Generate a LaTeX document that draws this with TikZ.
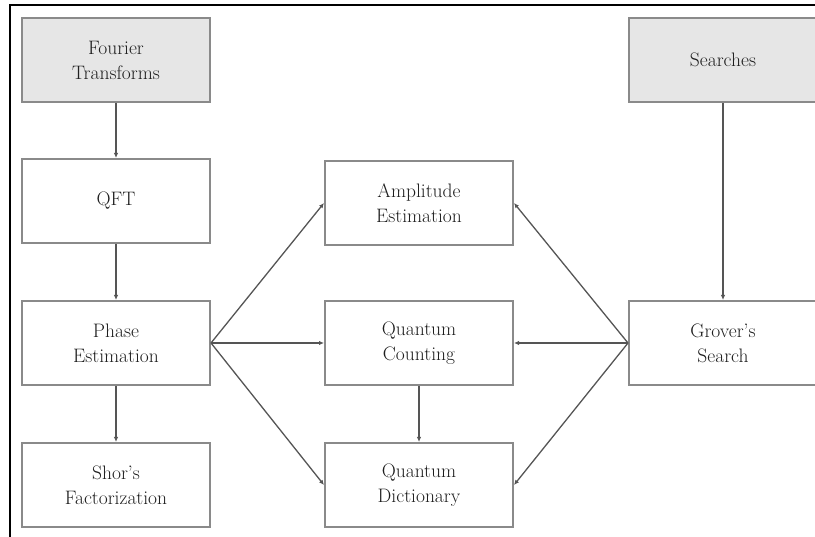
\documentclass[tikz,border=0pt]{standalone}
\usetikzlibrary{arrows.meta}
\definecolor{srcfill}{HTML}{E6E6E6}
\definecolor{boxgray}{HTML}{8A8A8A}
\definecolor{linkgray}{HTML}{555555}
\definecolor{textgray}{HTML}{1E1E1E}
\begin{document}
\begin{tikzpicture}[x=1pt,y=-1pt,
  box/.style={draw=boxgray, line width=2pt, minimum width=188pt, minimum height=84pt,
    align=center, text=textgray, font=\fontsize{19.5}{25}\selectfont, inner sep=0pt},
  src/.style={box, fill=srcfill},
  link/.style={draw=linkgray, line width=1.3pt, -{Latex[length=5pt,width=4.5pt]}}]
\useasboundingbox (0,0) rectangle (815,537);

% outer frame (left and top edges)
\draw[line width=2.6pt] (10,537) -- (10,5) -- (815,5);

% left column
\node[src] (four)  at (116,60)  {Fourier\\Transforms};
\node[box] (qft)   at (116,201) {QFT};
\node[box] (phase) at (116,343) {Phase\\Estimation};
\node[box] (shor)  at (116,485) {Shor's\\Factorization};

% middle column
\node[box] (amp)   at (419,203) {Amplitude\\Estimation};
\node[box] (count) at (419,343) {Quantum\\Counting};
\node[box] (dict)  at (419,485) {Quantum\\Dictionary};

% right column
\node[src] (search) at (723,60)  {Searches};
\node[box] (grover) at (723,343) {Grover's\\Search};

% connectors
\draw[link] (four) -- (qft);
\draw[link] (qft) -- (phase);
\draw[link] (phase) -- (shor);
\draw[link] (phase.east) -- (amp.west);
\draw[link] (phase.east) -- (count.west);
\draw[link] (phase.east) -- (dict.west);
\draw[link] (count) -- (dict);
\draw[link] (search) -- (grover);
\draw[link] (grover.west) -- (amp.east);
\draw[link] (grover.west) -- (count.east);
\draw[link] (grover.west) -- (dict.east);
\end{tikzpicture}
\end{document}
